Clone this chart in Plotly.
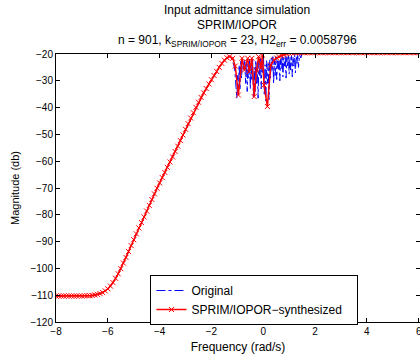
import plotly.graph_objects as go

# log10 frequency (rad/s) and magnitude (dB) of the synthesized model
red_x = [-8.0, -7.9, -7.8, -7.7, -7.6, -7.5, -7.4, -7.3, -7.2, -7.1, -7.0, -6.9, -6.8, -6.7, -6.6,
         -6.5, -6.4, -6.3, -6.2, -6.1, -6.0, -5.9, -5.8, -5.7, -5.6, -5.5, -5.4, -5.3, -5.2, -5.1,
         -5.0, -4.9, -4.8, -4.7, -4.6, -4.5, -4.4, -4.3, -4.2, -4.1, -4.0, -3.9, -3.8, -3.7, -3.6,
         -3.5, -3.4, -3.3, -3.2, -3.1, -3.0, -2.9, -2.8, -2.7, -2.6, -2.5, -2.4, -2.3, -2.2, -2.1,
         -2.0, -1.9, -1.8, -1.7, -1.6, -1.5, -1.4, -1.3,
         -1.18, -1.08, -0.96, -0.82, -0.73, -0.60, -0.54, -0.44, -0.35, -0.26, -0.18, -0.09, -0.03,
         0.03, 0.16, 0.29, 0.42, 0.52, 0.61, 0.7, 0.8, 0.9, 1.0, 1.1,
         1.2, 1.3, 1.4, 1.5, 1.6, 1.7, 1.8, 1.9, 2.0, 2.1, 2.2, 2.3, 2.4, 2.5, 2.6, 2.7, 2.8, 2.9,
         3.0, 3.1, 3.2, 3.3, 3.4, 3.5, 3.6, 3.7, 3.8, 3.9, 4.0, 4.1, 4.2, 4.3, 4.4, 4.5, 4.6, 4.7,
         4.8, 4.9, 5.0, 5.1, 5.2, 5.3, 5.4, 5.5, 5.6, 5.7, 5.8, 5.9, 6.0]
red_y = [-110.3, -110.3, -110.3, -110.3, -110.3, -110.3, -110.3, -110.3, -110.3, -110.3, -110.3,
         -110.2, -110.2, -110.2, -110.1,
         -109.9, -109.7, -109.4, -109.0, -108.4, -107.6, -106.6, -105.3, -103.7, -102.0, -100.1,
         -98.0, -95.9, -93.7, -91.5,
         -89.3, -87.1, -84.9, -82.9, -80.8, -78.6, -76.5, -74.3, -72.2, -70.1, -68.1, -66.1, -64.2,
         -62.3, -60.3,
         -58.4, -56.4, -54.4, -52.3, -50.2, -48.1, -46.0, -43.9, -41.9, -39.9, -38.0, -36.2, -34.5,
         -32.9, -31.2,
         -29.6, -28.0, -26.5, -25.0, -23.5, -22.3, -21.4, -21.0,
         -21.6, -24.5, -35.3, -21.6, -26.0, -21.6, -26.6, -21.6, -35.9, -26.0, -21.0, -25.3, -20.4,
         -31.6, -39.6, -24.1, -22.2, -21.5, -21.0, -20.6, -20.2, -19.9, -19.7, -19.6,
         -19.5, -19.5, -19.5, -19.5, -19.5, -19.5, -19.5, -19.5, -19.5, -19.5, -19.5, -19.5, -19.5,
         -19.5, -19.5, -19.5, -19.5, -19.5,
         -19.5, -19.5, -19.5, -19.5, -19.5, -19.5, -19.5, -19.5, -19.5, -19.5, -19.5, -19.5, -19.5,
         -19.5, -19.5, -19.5, -19.5, -19.5,
         -19.5, -19.5, -19.5, -19.5, -19.5, -19.5, -19.5, -19.5, -19.5, -19.5, -19.5, -19.5, -19.5]

# original response in the resonance band (elsewhere it lies under the synthesized curve)
orig_band_x = [-1.30, -1.25, -1.20, -1.15, -1.10, -1.06, -1.02, -0.99, -0.96, -0.93, -0.90, -0.87,
               -0.84, -0.80, -0.76, -0.72, -0.68, -0.65, -0.62, -0.59, -0.56, -0.53, -0.50, -0.47,
               -0.44, -0.41, -0.38, -0.35, -0.32, -0.29, -0.26, -0.23, -0.20, -0.17, -0.14, -0.11,
               -0.08, -0.05, -0.02, 0.01, 0.04, 0.07, 0.10, 0.13, 0.16, 0.19, 0.22, 0.25, 0.28,
               0.31, 0.34, 0.37, 0.40, 0.43, 0.46, 0.49, 0.52, 0.55, 0.58, 0.61, 0.64, 0.67, 0.70,
               0.73, 0.76, 0.79, 0.82, 0.85, 0.88, 0.91, 0.94, 0.97, 1.00, 1.03, 1.06, 1.09, 1.12,
               1.15, 1.18, 1.21, 1.24, 1.27, 1.30, 1.33, 1.36, 1.40, 1.45, 1.50]
orig_band_y = [-21.0, -21.3, -22.0, -23.5, -26.0, -30.0, -36.5, -28.0, -35.0, -24.0, -33.0, -22.5,
               -29.0, -21.8, -25.5, -22.0, -31.0, -22.5, -34.0, -23.0, -29.0, -21.5, -33.0, -24.0,
               -30.0, -22.0, -36.0, -25.0, -34.0, -22.5, -31.0, -23.0, -36.5, -22.0, -28.0, -21.5,
               -33.0, -23.0, -27.0, -21.0, -35.0, -24.0, -37.5, -22.5, -31.0, -23.5, -37.0, -22.0,
               -29.0, -21.5, -26.5, -21.0, -31.0, -22.0, -28.0, -21.0, -29.5, -22.5, -26.0, -20.8,
               -30.0, -22.0, -25.5, -20.5, -28.5, -21.5, -24.5, -20.5, -29.0, -21.0, -25.0, -20.3,
               -27.5, -21.0, -26.0, -20.5, -28.5, -21.0, -24.5, -20.2, -27.0, -20.8, -23.5, -20.0,
               -25.0, -20.2, -21.5, -19.6]

x_ticks = [-8, -6, -4, -2, 0, 2, 4, 6]
y_ticks = [-120, -110, -100, -90, -80, -70, -60, -50, -40, -30, -20]

title_lines = ["Input admittance simulation",
               "SPRIM/IOPOR",
               "n = 901, k<sub>SPRIM/IOPOR</sub> = 23, H2<sub>err</sub> = 0.0058796"]

low_idx = [i for i, v in enumerate(red_x) if v < -1.3]
high_idx = [i for i, v in enumerate(red_x) if v > 1.5]
orig_x = [red_x[i] for i in low_idx] + orig_band_x + [red_x[i] for i in high_idx]
orig_y = [red_y[i] for i in low_idx] + orig_band_y + [red_y[i] for i in high_idx]

FONT = "Liberation Sans, Arial, sans-serif"
# the original figure is slightly wider than the 420 px window and is cropped at the right
W, H = 422, 356
ML, MR, MT, MB = 56, 0, 54, 34
plot_h = H - MT - MB
plot_w = W - ML - MR

fig = go.Figure()
fig.add_trace(go.Scatter(
    x=orig_x, y=orig_y, mode="lines", name="Original",
    line=dict(color="#0000FF", width=1, dash="dashdot"),
))
fig.add_trace(go.Scatter(
    x=red_x, y=red_y, mode="lines+markers",
    name="SPRIM/IOPOR\u2212synthesized\u00a0\u00a0\u00a0",
    line=dict(color="#FF0000", width=1.5),
    marker=dict(symbol="x-thin", size=5, line=dict(color="#FF0000", width=1)),
))

axis_common = dict(
    showline=True, linecolor="black", linewidth=1, mirror="ticks",
    ticks="inside", ticklen=4, tickcolor="black", showgrid=False, zeroline=False,
    tickfont=dict(family=FONT, size=10, color="black"),
    ticklabeloverflow="allow",
)

# title lines placed at their pixel centres (page y)
title_centres = [10, 25.5, 41]
for txt, yc in zip(title_lines, title_centres):
    fig.add_annotation(
        text=txt, xref="paper", yref="paper", x=(238 - ML) / plot_w, xanchor="center",
        y=1 + (MT - yc) / plot_h, yanchor="middle", showarrow=False,
        font=dict(family=FONT, size=12, color="black"),
    )

fig.update_layout(
    width=W, height=H,
    margin=dict(l=ML, r=MR, t=MT, b=MB),
    paper_bgcolor="white", plot_bgcolor="white",
    font=dict(family=FONT, size=11, color="black"),
    xaxis=dict(range=[-8, -8 + plot_w / 26.05], tickvals=x_ticks,
               title=dict(text="Frequency (rad/s)", standoff=6, font=dict(size=12)),
               **axis_common),
    yaxis=dict(range=[-120, -20], tickvals=y_ticks,
               title=dict(text="Magnitude (db)", standoff=8, font=dict(size=11)),
               **axis_common),
    legend=dict(x=(151 - ML) / plot_w, y=(H - MB - 275) / plot_h,
                xanchor="left", yanchor="top",
                bordercolor="black", borderwidth=1, bgcolor="white",
                font=dict(family=FONT, size=12), tracegroupgap=0, itemwidth=30),
    showlegend=True,
)

fig.write_html("out.html", config={"displayModeBar": False},
               post_script="document.body.style.margin='0';document.body.style.overflow='hidden';")
